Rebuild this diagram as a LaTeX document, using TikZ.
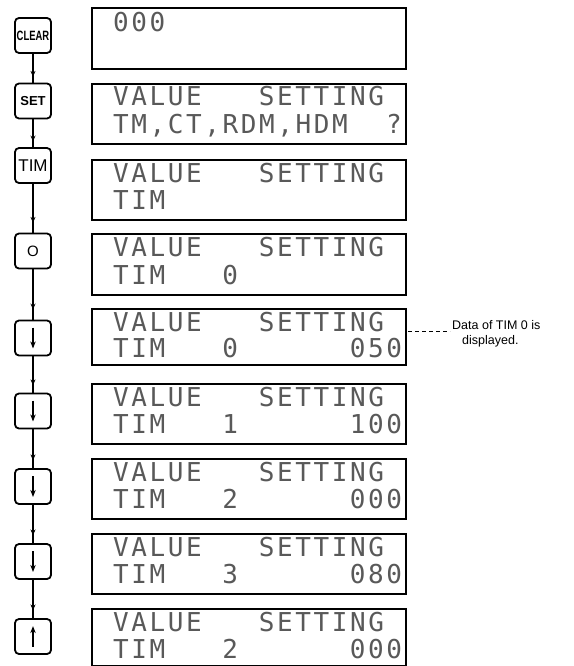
\documentclass[tikz,border=0pt]{standalone}
\usepackage{fontspec}
\usetikzlibrary{arrows.meta,decorations.markings,calc}
\newfontfamily\lcdfont[LetterSpace=10]{DejaVu Sans Mono}
\newfontfamily\keyfont{Liberation Sans}
\newfontfamily\keycondfont[FakeStretch=0.7]{Liberation Sans}
\begin{document}
\begin{tikzpicture}[x=1pt,y=-1pt,
  keybox/.style={draw, line width=1.8pt, rounded corners=4pt, minimum width=36pt, minimum height=35pt, inner sep=0pt},
  disp/.style={draw, line width=1.6pt, minimum width=314pt, anchor=north west, inner sep=0pt},
  lcd/.style={anchor=base west, inner sep=0pt, text=black!65, font=\lcdfont\fontsize{26}{30}\selectfont},
  conn/.style={line width=1.1pt, postaction={decorate},
    decoration={markings, mark=at position 0.8 with {\arrow{Stealth[length=6pt,width=5pt]}}}},
  keyarrow/.style={line width=1.3pt, -{Stealth[length=7pt,width=5.5pt]}},
  note/.style={anchor=base west, inner sep=0pt, font=\keyfont\fontsize{12.5}{14}\selectfont}
]
\useasboundingbox (0,0) rectangle (573,666);

% keys
\node[keybox] (k1) at (33,35.5) {\keycondfont\bfseries\fontsize{13.5}{13}\selectfont CLEAR};
\node[keybox] (k2) at (33,101) {\keyfont\bfseries\fontsize{13}{13}\selectfont SET};
\node[keybox] (k3) at (33,165.5) {\keyfont\fontsize{17}{17}\selectfont TIM};
\node[keybox] (k4) at (33,251) {\keyfont\fontsize{15}{15}\selectfont O};
\node[keybox] (k5) at (33,338) {};
\node[keybox] (k6) at (33,411) {};
\node[keybox] (k7) at (33,486.5) {};
\node[keybox] (k8) at (33,561.5) {};
\node[keybox] (k9) at (33,636.5) {};

\foreach \k in {k5,k6,k7,k8}{
  \draw[keyarrow] ($(\k.north)+(0,8)$) -- ($(\k.south)+(0,-8)$);
}
\draw[keyarrow] ($(k9.south)+(0,-8)$) -- ($(k9.north)+(0,8)$);

% connectors
\draw[conn] (k1.south) -- (k2.north);
\draw[conn] (k2.south) -- (k3.north);
\draw[conn] (k3.south) -- (k4.north);
\draw[conn] (k4.south) -- (k5.north);
\draw[conn] (k5.south) -- (k6.north);
\draw[conn] (k6.south) -- (k7.north);
\draw[conn] (k7.south) -- (k8.north);
\draw[conn] (k8.south) -- (k9.north);

% displays
\node[disp, minimum height=61pt] (d1) at (91,7) {};
\node[disp, minimum height=60pt] (d2) at (91,83) {};
\node[disp, minimum height=60pt] (d3) at (91,159) {};
\node[disp, minimum height=61pt] (d4) at (91,233) {};
\node[disp, minimum height=56pt] (d5) at (91,308) {};
\node[disp, minimum height=60pt] (d6) at (91,383) {};
\node[disp, minimum height=60pt] (d7) at (91,458) {};
\node[disp, minimum height=60pt] (d8) at (91,533) {};
\node[disp, minimum height=57pt] (d9) at (91,608) {};

% display texts (cell x = 113 + 18.2 n)
\node[lcd] (t1a) at (113,32) {000};

\node[lcd] (t2a) at (113,106) {VALUE};
\node[lcd] (t2b) at (258.6,106) {SETTING};
\node[lcd] (t2c) at (113,133) {TM,CT,RDM,HDM};
\node[lcd] (t2d) at (386,133) {?};

\node[lcd] (t3a) at (113,182) {VALUE};
\node[lcd] (t3b) at (258.6,182) {SETTING};
\node[lcd] (t3c) at (113,209) {TIM};

\node[lcd] (t4a) at (113,256) {VALUE};
\node[lcd] (t4b) at (258.6,256) {SETTING};
\node[lcd] (t4c) at (113,284) {TIM};
\node[lcd] (t4d) at (222.2,284) {0};

\node[lcd] (t5a) at (113,331) {VALUE};
\node[lcd] (t5b) at (258.6,331) {SETTING};
\node[lcd] (t5c) at (113,357) {TIM};
\node[lcd] (t5d) at (222.2,357) {0};
\node[lcd] (t5e) at (349.6,357) {050};

\node[lcd] (t6a) at (113,406) {VALUE};
\node[lcd] (t6b) at (258.6,406) {SETTING};
\node[lcd] (t6c) at (113,433) {TIM};
\node[lcd] (t6d) at (222.2,433) {1};
\node[lcd] (t6e) at (349.6,433) {100};

\node[lcd] (t7a) at (113,481) {VALUE};
\node[lcd] (t7b) at (258.6,481) {SETTING};
\node[lcd] (t7c) at (113,508) {TIM};
\node[lcd] (t7d) at (222.2,508) {2};
\node[lcd] (t7e) at (349.6,508) {000};

\node[lcd] (t8a) at (113,556) {VALUE};
\node[lcd] (t8b) at (258.6,556) {SETTING};
\node[lcd] (t8c) at (113,583) {TIM};
\node[lcd] (t8d) at (222.2,583) {3};
\node[lcd] (t8e) at (349.6,583) {080};

\node[lcd] (t9a) at (113,631) {VALUE};
\node[lcd] (t9b) at (258.6,631) {SETTING};
\node[lcd] (t9c) at (113,658) {TIM};
\node[lcd] (t9d) at (222.2,658) {2};
\node[lcd] (t9e) at (349.6,658) {000};

% annotation
\node[note] (n1) at (452,329) {Data of TIM 0 is};
\node[note] (n2) at (462,344) {displayed.};
\coordinate (lead) at (408,331);
\draw[line width=0.9pt, dash pattern=on 4pt off 3pt] (lead) -- ($(n1.base west)+(-2,2)$);
\end{tikzpicture}
\end{document}
